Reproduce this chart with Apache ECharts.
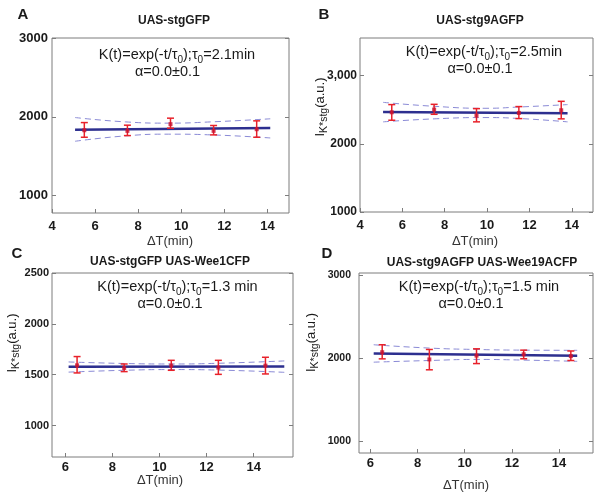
<!DOCTYPE html>
<html><head><meta charset="utf-8">
<script src="https://cdn.jsdelivr.net/npm/echarts@6/dist/echarts.min.js"></script>
<style>html,body{margin:0;padding:0;background:#fff}#c{width:601px;height:495px}</style>
</head><body><div id="c"></div>
<script>
// ---------- DATA ----------
// Panel A: UAS-stgGFP
const xA = [5.5, 7.5, 9.5, 11.5, 13.5];
const yA = [1830, 1822, 1907, 1822, 1843];
const loA = [1741, 1762, 1856, 1771, 1741];
const hiA = [1927, 1894, 1983, 1890, 1949];
const fitXA = [5.07, 14.13];
const fitYA = [1835, 1858];
const bandXA = [5.07, 7.4, 9.4, 11.4, 14.13];
const bandUpA = [1991, 1936, 1920, 1936, 1975];
const bandLoA = [1690, 1758, 1780, 1771, 1732];

// Panel B: UAS-stg9AGFP
const xB = [5.5, 7.5, 9.5, 11.5, 13.5];
const yB = [2461, 2501, 2413, 2452, 2491];
const loB = [2345, 2432, 2321, 2369, 2365];
const hiB = [2574, 2578, 2515, 2545, 2622];
const fitXB = [5.09, 13.8];
const fitYB = [2467, 2447];
const bandXB = [5.09, 7.5, 9.9, 11.6, 13.8];
const bandUpB = [2607, 2549, 2520, 2540, 2574];
const bandLoB = [2321, 2365, 2384, 2369, 2321];

// Panel C: UAS-stgGFP UAS-Wee1CFP
const xC = [6.5, 8.5, 10.5, 12.5, 14.5];
const yC = [1592, 1566, 1589, 1569, 1589];
const loC = [1517, 1530, 1543, 1503, 1507];
const hiC = [1678, 1605, 1641, 1641, 1671];
const fitXC = [6.14, 15.3];
const fitYC = [1578, 1581];
const bandXC = [6.14, 8.5, 10.5, 12.5, 15.3];
const bandUpC = [1625, 1610, 1605, 1612, 1635];
const bandLoC = [1525, 1543, 1550, 1545, 1523];

// Panel D: UAS-stg9AGFP UAS-Wee19ACFP
const xD = [6.5, 8.5, 10.5, 12.5, 14.5];
const yD = [2075, 1988, 2034, 2050, 2028];
const loD = [1995, 1863, 1938, 1996, 1975];
const hiD = [2165, 2108, 2116, 2100, 2090];
const fitXD = [6.14, 14.77];
const fitYD = [2060, 2031];
const bandXD = [6.14, 8.5, 10.5, 12.5, 14.77];
const bandUpD = [2165, 2125, 2108, 2100, 2098];
const bandLoD = [1955, 1975, 1988, 1980, 1965];

// Tick values and labels
const xTicksAB = [4, 6, 8, 10, 12, 14];
const xLabelsAB = ['4', '6', '8', '10', '12', '14'];
const xTicksCD = [6, 8, 10, 12, 14];
const xLabelsCD = ['6', '8', '10', '12', '14'];
const yTicksA = [1000, 2000, 3000];
const yLabelsA = ['1000', '2000', '3000'];
const yTicksB = [1000, 2000, 3000];
const yLabelsB = ['1000', '2000', '3,000'];
const yTicksC = [1000, 1500, 2000, 2500];
const yLabelsC = ['1000', '1500', '2000', '2500'];
const yTicksD = [1000, 2000, 3000];
const yLabelsD = ['1000', '2000', '3000'];

// Texts
const panelLetters = ['A', 'B', 'C', 'D'];
const panelTitles = ['UAS-stgGFP', 'UAS-stg9AGFP', 'UAS-stgGFP UAS-Wee1CFP', 'UAS-stg9AGFP UAS-Wee19ACFP'];
const tauValues = ['2.1min', '2.5min', '1.3 min', '1.5 min'];
const alphaText = 'α=0.0±0.1';
const xName = 'ΔT(min)';

// ---------- LAYOUT ----------
const FONT = '"Liberation Sans", Arial, Helvetica, sans-serif';
const panels = [
  {grid:{left:52, top:38, width:237, height:175}, xMin:4, xMax:15, yMin:780, yMax:3000,
   xT:xTicksAB, xL:xLabelsAB, yT:yTicksA, yL:yLabelsA, yFont:13, yMargin:4, xMargin:7,
   x:xA, y:yA, lo:loA, hi:hiA, fx:fitXA, fy:fitYA, bx:bandXA, bu:bandUpA, bl:bandLoA},
  {grid:{left:360, top:38, width:233, height:174}, xMin:4, xMax:15, yMin:1000, yMax:3550,
   xT:xTicksAB, xL:xLabelsAB, yT:yTicksB, yL:yLabelsB, yFont:12, yMargin:3, xMargin:7,
   x:xB, y:yB, lo:loB, hi:hiB, fx:fitXB, fy:fitYB, bx:bandXB, bu:bandUpB, bl:bandLoB},
  {grid:{left:52, top:273, width:241, height:184}, xMin:5.435, xMax:15.67, yMin:690, yMax:2500,
   xT:xTicksCD, xL:xLabelsCD, yT:yTicksC, yL:yLabelsC, yFont:11, yMargin:3, xMargin:4,
   x:xC, y:yC, lo:loC, hi:hiC, fx:fitXC, fy:fitYC, bx:bandXC, bu:bandUpC, bl:bandLoC},
  {grid:{left:359, top:273, width:234, height:180}, xMin:5.516, xMax:15.44, yMin:860, yMax:3030,
   xT:xTicksCD, xL:xLabelsCD, yT:yTicksD, yL:yLabelsD, yFont:10.5, yMargin:8, xMargin:4,
   x:xD, y:yD, lo:loD, hi:hiD, fx:fitXD, fy:fitYD, bx:bandXD, bu:bandUpD, bl:bandLoD}
];

const zip = (a, b) => a.map((v, i) => [v, b[i]]);
const pick = (ticks, labels) => v => { const i = ticks.findIndex(t => Math.abs(t - v) < 1e-6); return i >= 0 ? labels[i] : ''; };

const grids = [], xAxes = [], yAxes = [], series = [];
const FRAME = '#7d7d7d';
panels.forEach((p, k) => {
  grids.push(Object.assign({show:true, borderColor:FRAME, borderWidth:1, backgroundColor:'#fff'}, p.grid));
  xAxes.push({type:'value', gridIndex:k, min:p.xMin, max:p.xMax, position:'bottom',
    splitLine:{show:false}, axisLine:{show:false},
    axisTick:{show:true, inside:true, length:4, customValues:p.xT, lineStyle:{color:FRAME}},
    axisLabel:{customValues:p.xT, formatter:pick(p.xT, p.xL), margin:p.xMargin, color:'#1a1a1a',
      fontFamily:FONT, fontWeight:'bold', fontSize:13}});
  yAxes.push({type:'value', gridIndex:k, min:p.yMin, max:p.yMax, position:'left',
    splitLine:{show:false}, axisLine:{show:false},
    axisTick:{show:true, inside:true, length:4, customValues:p.yT, lineStyle:{color:FRAME}},
    axisLabel:{customValues:p.yT, formatter:pick(p.yT, p.yL), margin:p.yMargin, color:'#1a1a1a',
      fontFamily:FONT, fontWeight:'bold', fontSize:p.yFont}});
  yAxes.push({type:'value', gridIndex:k, min:p.yMin, max:p.yMax, position:'right',
    splitLine:{show:false}, axisLine:{show:false},
    axisTick:{show:true, inside:true, length:4, customValues:p.yT, lineStyle:{color:FRAME}},
    axisLabel:{show:false}});
  const yi = 2 * k;
  // confidence band
  series.push({type:'line', xAxisIndex:k, yAxisIndex:yi, data:zip(p.bx, p.bu), smooth:0.5, symbol:'none',
    lineStyle:{color:'#8a8ad6', width:1, type:[6,4]}, z:2, silent:true});
  series.push({type:'line', xAxisIndex:k, yAxisIndex:yi, data:zip(p.bx, p.bl), smooth:0.5, symbol:'none',
    lineStyle:{color:'#8a8ad6', width:1, type:[6,4]}, z:2, silent:true});
  // fit line
  series.push({type:'line', xAxisIndex:k, yAxisIndex:yi, data:zip(p.fx, p.fy), symbol:'none',
    lineStyle:{color:'#2d2f8f', width:2.5}, z:3, silent:true});
  // error bars
  series.push({type:'custom', xAxisIndex:k, yAxisIndex:yi, z:4,
    data:p.x.map((v, i) => [v, p.lo[i], p.hi[i]]),
    encode:{x:0, y:[1,2]},
    renderItem:(params, api) => {
      const a = api.coord([api.value(0), api.value(1)]);
      const b = api.coord([api.value(0), api.value(2)]);
      const w = 3.5, st = {stroke:'#e8212a', lineWidth:1.5};
      return {type:'group', children:[
        {type:'line', shape:{x1:a[0], y1:a[1], x2:b[0], y2:b[1]}, style:st},
        {type:'line', shape:{x1:a[0]-w, y1:a[1], x2:a[0]+w, y2:a[1]}, style:st},
        {type:'line', shape:{x1:b[0]-w, y1:b[1], x2:b[0]+w, y2:b[1]}, style:st}
      ]};
    }});
  // points
  series.push({type:'scatter', xAxisIndex:k, yAxisIndex:yi, data:zip(p.x, p.y), symbol:'rect', symbolSize:4,
    itemStyle:{color:'#c8102e'}, z:5});
});

// ---------- TEXT ----------
const graphics = [];
const txt = (x, y, text, style, extra) => graphics.push(Object.assign({type:'text', x, y,
  style:Object.assign({text, fill:'#1a1a1a', fontFamily:FONT, align:'center', verticalAlign:'middle'}, style)}, extra || {}));

const letterPos = [[23,15],[324,15],[17,254],[327,254]];
const titlePos = [[174,21],[480,21],[170,262],[482,263]];
const ann1Pos = [[177,55],[484,52],[177.5,287],[479,287]];
const ann2Pos = [[167.5,72],[480,68.5],[170,303.5],[471,304]];
const xNamePos = [[170,241],[475,241],[160,480],[466,485]];
const yNamePos = [null,[320,107],[12,343],[311,342.5]];

const richAnn = {
  m:{fontSize:14.5, lineHeight:20, fontFamily:FONT, fill:'#1a1a1a'},
  s:{fontSize:10, lineHeight:10, verticalAlign:'bottom', fontFamily:FONT, fill:'#1a1a1a'}
};
const richY = {
  m:{fontSize:13, lineHeight:20, fontFamily:FONT, fill:'#1a1a1a'},
  s:{fontSize:10.5, lineHeight:10, verticalAlign:'bottom', fontFamily:FONT, fill:'#1a1a1a'}
};

panels.forEach((p, k) => {
  txt(letterPos[k][0], letterPos[k][1], panelLetters[k], {fontSize:15, fontWeight:'bold'});
  txt(titlePos[k][0], titlePos[k][1], panelTitles[k], {fontSize:12, fontWeight:'bold'});
  txt(ann1Pos[k][0], ann1Pos[k][1], '{m|K(t)=exp(-t/τ}{s|0}{m|);τ}{s|0}{m|=' + tauValues[k] + '}', {rich:richAnn});
  txt(ann2Pos[k][0], ann2Pos[k][1], alphaText, {fontSize:14.5});
  txt(xNamePos[k][0], xNamePos[k][1], xName, {fontSize:13, fill:'#333'});
  if (yNamePos[k]) {
    txt(yNamePos[k][0], yNamePos[k][1], '{m|I}{s|K*stg}{m|(a.u.)}', {rich:richY}, {rotation:Math.PI/2});
  }
});

const chart = echarts.init(document.getElementById('c'), null, {renderer:'canvas'});
chart.setOption({
  animation:false,
  backgroundColor:'#fff',
  grid:grids, xAxis:xAxes, yAxis:yAxes, series:series,
  graphic:graphics
});
</script>
</body></html>
